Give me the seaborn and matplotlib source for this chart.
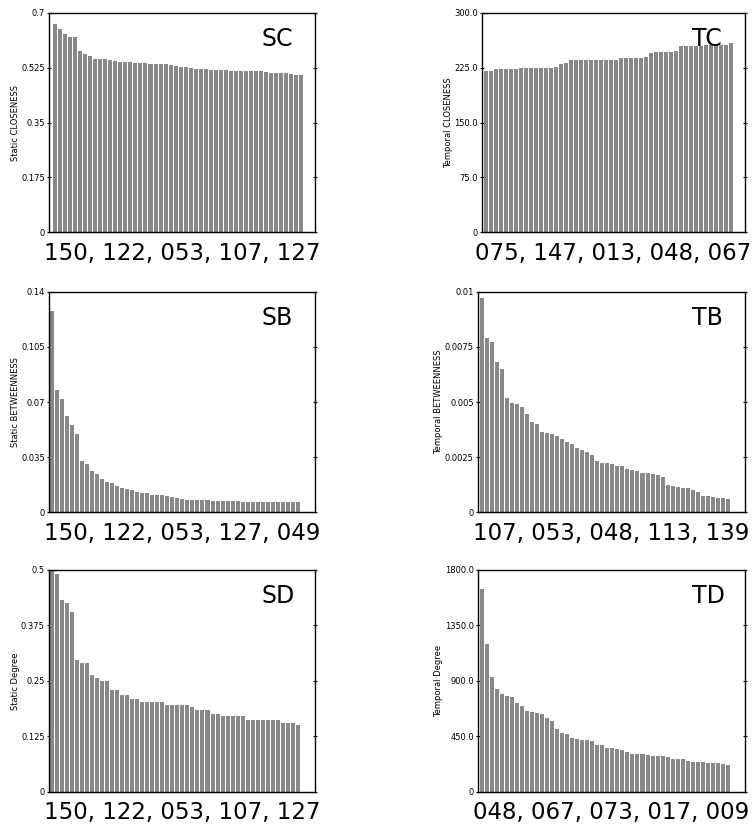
import numpy as np
import matplotlib
matplotlib.use("Agg")
import matplotlib.pyplot as plt
import seaborn as sns

# values of the 50 top ranked nodes for each centrality
sc_vals = [0.663, 0.648, 0.632, 0.624, 0.621, 0.579, 0.567, 0.562, 0.552, 0.552,
           0.552, 0.548, 0.546, 0.544, 0.543, 0.542, 0.541, 0.540, 0.539, 0.538,
           0.537, 0.536, 0.535, 0.533, 0.531, 0.528, 0.526, 0.524, 0.522, 0.521,
           0.519, 0.518, 0.517, 0.517, 0.516, 0.515, 0.515, 0.514, 0.514, 0.514,
           0.513, 0.513, 0.510, 0.509, 0.509, 0.508, 0.507, 0.505, 0.503, 0.501]
tc_vals = [220.3, 220.3, 222.6, 222.6, 222.6, 222.6, 222.6, 224.9, 224.9, 224.9,
           224.9, 224.9, 224.9, 224.9, 226.5, 229.5, 231.0, 235.3, 235.3, 235.3,
           235.3, 235.3, 235.3, 235.3, 235.3, 235.3, 235.3, 238.0, 238.5, 238.5,
           238.5, 238.5, 239.9, 245.3, 245.8, 245.8, 245.8, 246.0, 248.0, 254.9,
           254.9, 254.9, 254.9, 254.9, 255.8, 255.8, 255.8, 255.8, 256.0, 258.0]
sb_vals = [0.1279, 0.0776, 0.0719, 0.0613, 0.0552, 0.0499, 0.0326, 0.0309, 0.0260, 0.0241,
           0.0211, 0.0195, 0.0188, 0.0169, 0.0154, 0.0148, 0.0142, 0.0131, 0.0125, 0.0121,
           0.0112, 0.0110, 0.0108, 0.0102, 0.0099, 0.0088, 0.0087, 0.0078, 0.0077, 0.0077,
           0.0076, 0.0076, 0.0075, 0.0074, 0.0073, 0.0072, 0.0070, 0.0069, 0.0068, 0.0068,
           0.0067, 0.0066, 0.0066, 0.0065, 0.0065, 0.0064, 0.0064, 0.0064, 0.0063, 0.0063]
tb_vals = [0.00970, 0.00790, 0.00773, 0.00683, 0.00648, 0.00518, 0.00497, 0.00491, 0.00477, 0.00447,
           0.00411, 0.00399, 0.00363, 0.00358, 0.00356, 0.00346, 0.00332, 0.00317, 0.00308, 0.00290,
           0.00282, 0.00272, 0.00260, 0.00233, 0.00225, 0.00222, 0.00221, 0.00211, 0.00210, 0.00196,
           0.00192, 0.00186, 0.00180, 0.00180, 0.00174, 0.00171, 0.00162, 0.00124, 0.00121, 0.00116,
           0.00110, 0.00109, 0.00103, 0.00091, 0.00074, 0.00074, 0.00069, 0.00063, 0.00063, 0.00062]
sd_vals = [0.499, 0.492, 0.432, 0.426, 0.406, 0.298, 0.290, 0.290, 0.264, 0.257,
           0.250, 0.250, 0.230, 0.230, 0.217, 0.217, 0.209, 0.209, 0.202, 0.202,
           0.202, 0.202, 0.202, 0.196, 0.196, 0.196, 0.196, 0.196, 0.190, 0.184,
           0.184, 0.184, 0.176, 0.176, 0.170, 0.170, 0.170, 0.170, 0.170, 0.162,
           0.162, 0.162, 0.162, 0.162, 0.162, 0.162, 0.156, 0.156, 0.156, 0.150]
td_vals = [1642, 1197, 931, 834, 793, 779, 771, 722, 698, 657,
           649, 635, 630, 597, 573, 510, 475, 467, 434, 429,
           421, 421, 413, 375, 375, 358, 353, 348, 339, 326,
           304, 304, 304, 299, 293, 293, 291, 285, 266, 266,
           263, 250, 244, 239, 239, 236, 236, 231, 225, 217]

# top 5 node ids shown under each panel
sc_top = ["150", "122", "053", "107", "127"]
tc_top = ["075", "147", "013", "048", "067"]
sb_top = ["150", "122", "053", "127", "049"]
tb_top = ["107", "053", "048", "113", "139"]
sd_top = ["150", "122", "053", "107", "127"]
td_top = ["048", "067", "073", "017", "009"]

sc_ticks = ["0", "0.175", "0.35", "0.525", "0.7"]
tc_ticks = ["0", "75.0", "150.0", "225.0", "300.0"]
sb_ticks = ["0", "0.035", "0.07", "0.105", "0.14"]
tb_ticks = ["0", "0.0025", "0.005", "0.0075", "0.01"]
sd_ticks = ["0", "0.125", "0.25", "0.375", "0.5"]
td_ticks = ["0", "450.0", "900.0", "1350.0", "1800.0"]

sns.set_style("white")
plt.rcParams["font.family"] = ["DejaVu Sans"]
plt.rcParams["text.color"] = "black"
plt.rcParams["axes.labelcolor"] = "black"
plt.rcParams["ytick.color"] = "black"

fig = plt.figure(figsize=(7.55, 8.25), dpi=100)

panels = [
    ("SC", sc_vals, sc_top, sc_ticks, 0.7, "Static CLOSENESS", [0.0649, 0.7184, 0.3523, 0.2662], (-1.2, 51.73)),
    ("TC", tc_vals, tc_top, tc_ticks, 300.0, "Temporal CLOSENESS", [0.6384, 0.7184, 0.3483, 0.2662], (-0.72, 51.73)),
    ("SB", sb_vals, sb_top, sb_ticks, 0.14, "Static BETWEENNESS", [0.0649, 0.3790, 0.3523, 0.2674], (-0.54, 52.39)),
    ("TB", tb_vals, tb_top, tb_ticks, 0.01, "Temporal BETWEENNESS", [0.6331, 0.3790, 0.3536, 0.2674], (-0.74, 52.39)),
    ("SD", sd_vals, sd_top, sd_ticks, 0.5, "Static Degree", [0.0649, 0.0404, 0.3523, 0.2687], (-0.54, 52.39)),
    ("TD", td_vals, td_top, td_ticks, 1800.0, "Temporal Degree", [0.6331, 0.0404, 0.3536, 0.2687], (-0.74, 52.39)),
]

for name, vals, top, ticks, ymax, ylab, pos, xl in panels:
    ax = fig.add_axes(pos)
    sns.barplot(x=np.arange(len(vals)), y=vals, color="#888888", saturation=1,
                width=0.8, linewidth=0, ax=ax)
    ax.set_xlim(xl)
    ax.set_ylim(0, ymax)
    ax.set_xticks([])
    ax.set_yticks(np.linspace(0, ymax, 5))
    ax.set_yticklabels(ticks)
    ax.tick_params(axis="y", which="both", direction="inout", length=3, width=0.8,
                   labelsize=6, pad=1.5, left=True, right=True, colors="black")
    ax.set_ylabel(ylab, fontsize=6, labelpad=1, color="black")
    ax.set_xlabel(", ".join(top), fontsize=16.5, labelpad=7, color="black")
    for s in ax.spines.values():
        s.set_visible(True)
        s.set_color("black")
        s.set_linewidth(1.0)
    ax.text(0.8, 0.85, name, transform=ax.transAxes, fontsize=17,
            ha="left", va="baseline", color="black")

fig.savefig("out.png", dpi=100)
